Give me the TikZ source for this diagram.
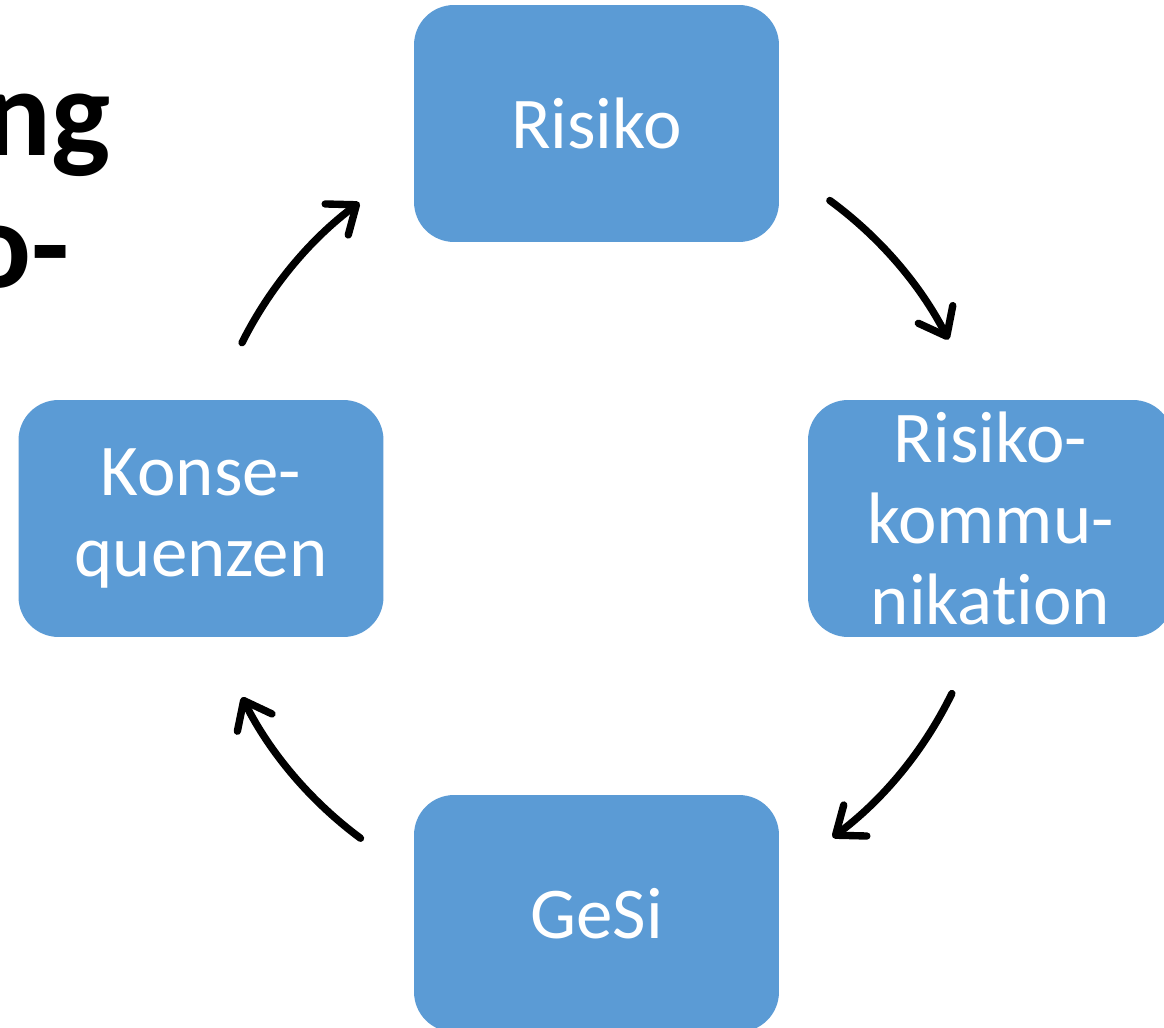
\documentclass[tikz,border=0pt]{standalone}
\usepackage{fontspec}
\setmainfont[Ligatures=NoCommon]{Carlito}
\usetikzlibrary{arrows.meta,calc}
\definecolor{boxblue}{HTML}{5B9BD5}
\begin{document}
\begin{tikzpicture}[x=0.02cm,y=0.02cm,
  box/.style={rectangle, rounded corners=0.8cm, fill=boxblue,
    minimum width=7.3cm, minimum height=4.74cm, text=white,
    font=\fontsize{41.5}{46}\selectfont, align=center, inner sep=0pt},
  titletext/.style={anchor=base east, inner sep=0pt,
    font=\bfseries\fontsize{71}{75}\selectfont},
  cyc/.style={line width=4.2pt, line cap=round,
    -{Straight Barb[length=14pt,width=22pt,line cap=round,line join=round]}}]
\useasboundingbox (0,0) rectangle (1164,1028);
\clip (0,0) rectangle (1164,1028);
\fill[white] (0,0) rectangle (1164,1028);

% partially visible title
\node[titletext] (t1) at (111,872) {ng};
\node[titletext] (t2) at (70,740) {o-};

% boxes
\node[box] (risiko) at (596.5,904.5) {Risiko};
\node[box] (komm) at (990.5,509.5) {Risiko-\\kommu-\\nikation};
\node[box] (kons) at (201,509.5) {Konse-\\quenzen};
\node[box] (gesi) at (596.5,114.5) {GeSi};

% cycle arrows
\coordinate (c) at (596,508);
\coordinate (a1) at ($(c)+(53.8:7.92cm)$);
\coordinate (a2) at ($(c)+(-26:7.92cm)$);
\coordinate (a3) at ($(c)+(-126.5:7.92cm)$);
\coordinate (a4) at ($(c)+(153.4:7.92cm)$);
\draw[cyc] (a1) arc[start angle=53.8, end angle=27.1, radius=7.92cm];
\draw[cyc] (a2) arc[start angle=-26, end angle=-53.3, radius=7.92cm];
\draw[cyc] (a3) arc[start angle=-126.5, end angle=-153.4, radius=7.92cm];
\draw[cyc] (a4) arc[start angle=153.4, end angle=126.7, radius=7.92cm];
\end{tikzpicture}
\end{document}
